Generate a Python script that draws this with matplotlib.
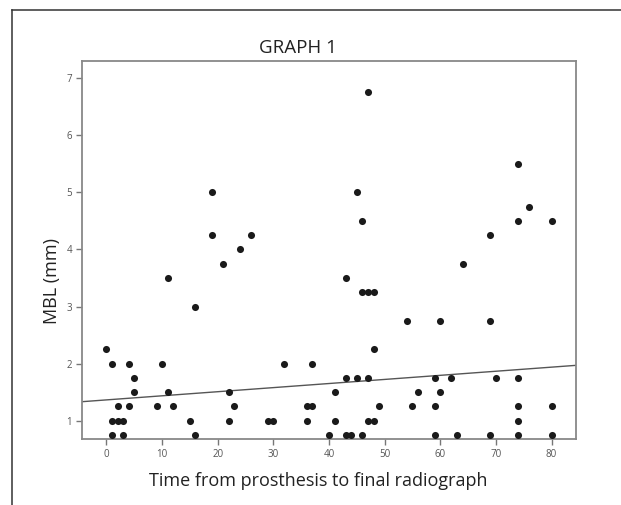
import matplotlib.pyplot as plt
from matplotlib.lines import Line2D
import numpy as np

# Tempo (meses) e MBL (mm)
time = [0, 1, 1, 1, 2, 2, 3, 3, 4, 4, 5, 5, 9, 10, 11, 11, 12, 15, 16, 16,
        19, 19, 21, 22, 22, 23, 24, 26,
        29, 30, 32, 36, 36, 37, 37, 40, 41, 41, 43, 43, 43, 44, 45, 45,
        46, 46, 46, 47, 47, 47, 47, 48, 48, 48, 49,
        54, 55, 56, 59, 59, 59, 60, 60, 62, 63, 64, 69, 69, 69, 70,
        74, 74, 74, 74, 74, 74, 76, 80, 80, 80]
mbl = [2.25, 2, 1, 0.75, 1.25, 1, 1, 0.75, 2, 1.25, 1.75, 1.5, 1.25, 2, 3.5, 1.5,
       1.25, 1, 3, 0.75, 5, 4.25, 3.75, 1.5, 1, 1.25, 4, 4.25,
       1, 1, 2, 1.25, 1, 2, 1.25, 0.75, 1.5, 1, 3.5, 1.75, 0.75, 0.75, 5, 1.75,
       4.5, 3.25, 0.75, 6.75, 3.25, 1.75, 1, 3.25, 2.25, 1, 1.25,
       2.75, 1.25, 1.5, 1.75, 1.25, 0.75, 2.75, 1.5, 1.75, 0.75, 3.75, 4.25,
       2.75, 0.75, 1.75,
       5.5, 4.5, 1.75, 1.25, 1, 0.75, 4.75, 4.5, 1.25, 0.75]

# Reta ajustada (como aparece no gráfico)
fit_intercept = 1.365
fit_slope = 0.00717

x_ticks = [0, 10, 20, 30, 40, 50, 60, 70, 80]
y_ticks = [1, 2, 3, 4, 5, 6, 7]

plt.rcParams['font.family'] = ['Open Sans', 'DejaVu Sans']

fig = plt.figure(figsize=(6.21, 5.05), dpi=100)
ax = fig.add_axes([82/621, 1 - 439/505, (576 - 82)/621, (439 - 60.5)/505])

ax.scatter(time, mbl, s=26, color='#1a1a1a', zorder=3, linewidths=0)

xl = (-4.4, 84.4)
ax.set_xlim(xl)
ax.set_ylim(0.68, 7.31)
xx = np.array(xl)
ax.plot(xx, fit_intercept + fit_slope*xx, color='#555555', lw=1.0, zorder=2)

ax.set_xticks(x_ticks)
ax.set_yticks(y_ticks)
ax.tick_params(direction='out', length=4, width=1, color='#777777',
               labelsize=7, labelcolor='#555555', pad=3)
for s in ax.spines.values():
    s.set_color('#888888')
    s.set_linewidth(1.3)

fig.text(297.5/621, 1 - 53.3/505, "GRAPH 1", ha='center', va='baseline',
         fontsize=13.5, color='#222222')
fig.text(318/621, 1 - 485.7/505, "Time from prosthesis to final radiograph",
         ha='center', va='baseline', fontsize=13, color='#222222')
fig.text(51.7/621, 1 - 237.5/505, "MBL (mm)", ha='right', va='center',
         rotation=90, rotation_mode='anchor', fontsize=13, color='#222222')

# Moldura externa
fig.add_artist(Line2D([12/621, 12/621], [0, 1 - 10/505], color='#333333',
                      lw=1.1, transform=fig.transFigure))
fig.add_artist(Line2D([12/621, 1], [1 - 10/505, 1 - 10/505], color='#333333',
                      lw=1.1, transform=fig.transFigure))

fig.savefig('out.png', dpi=100)
